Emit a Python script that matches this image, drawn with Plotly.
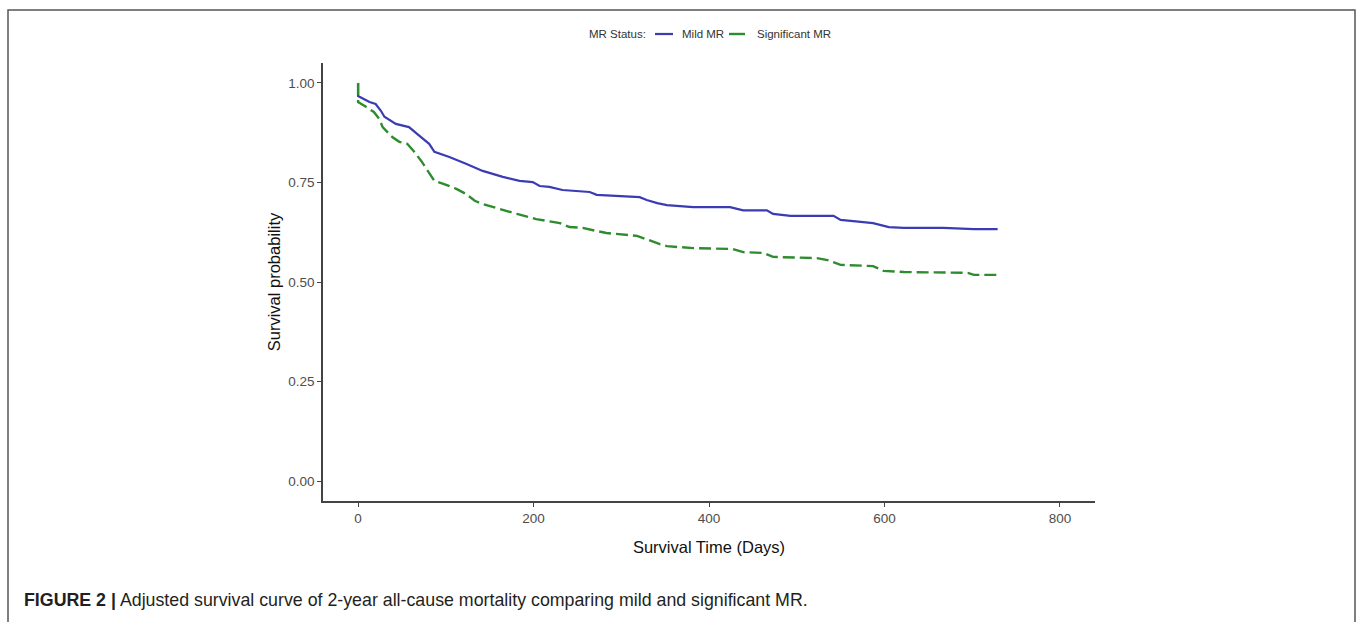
import plotly.graph_objects as go

# ---- data ----
mild_t = [0, 0, 13, 20, 26, 30, 43, 58, 70, 81, 87, 104, 123, 142, 165, 184, 199, 207, 218,
          233, 264, 272, 321, 329, 341, 352, 382, 424, 439, 466, 473, 493, 542, 550, 573,
          587, 605, 622, 667, 702, 729]
mild_s = [1.0, 0.967, 0.952, 0.947, 0.930, 0.915, 0.897, 0.889, 0.867, 0.847, 0.827, 0.814,
          0.797, 0.779, 0.764, 0.754, 0.751, 0.741, 0.739, 0.731, 0.726, 0.719, 0.713, 0.706,
          0.698, 0.693, 0.688, 0.688, 0.680, 0.680, 0.671, 0.666, 0.666, 0.656, 0.651, 0.648,
          0.638, 0.636, 0.636, 0.633, 0.633]

sig_t = [0, 0, 9, 18, 24, 28, 39, 47, 56, 64, 72, 79, 87, 98, 112, 123, 133, 142, 161, 181,
         203, 216, 230, 241, 256, 272, 283, 318, 333, 344, 352, 382, 427, 439, 462, 473, 523,
         535, 550, 587, 599, 622, 695, 702, 729]
sig_s = [1.0, 0.952, 0.940, 0.927, 0.910, 0.889, 0.864, 0.852, 0.847, 0.827, 0.804, 0.779,
         0.754, 0.746, 0.734, 0.721, 0.704, 0.696, 0.683, 0.671, 0.658, 0.653, 0.648, 0.638,
         0.636, 0.628, 0.623, 0.616, 0.603, 0.595, 0.590, 0.585, 0.583, 0.575, 0.573, 0.563,
         0.560, 0.555, 0.543, 0.540, 0.528, 0.525, 0.523, 0.518, 0.518]

x_ticks = [0, 200, 400, 600, 800]
y_ticks = [0.00, 0.25, 0.50, 0.75, 1.00]

W, H = 1358, 622
ML, MR, MT, MB = 323, 263, 63, 121
PW = W - ML - MR
PH = H - MT - MB

FONT = "Liberation Sans, Arial, Helvetica, sans-serif"
BLUE = "#3b3bb3"
GREEN = "#2e8b2e"
GDASH = "12px,5px"

fig = go.Figure()
fig.add_trace(go.Scatter(x=mild_t, y=mild_s, mode="lines", name="Mild MR", showlegend=False,
                         line=dict(color=BLUE, width=2.2)))
fig.add_trace(go.Scatter(x=sig_t, y=sig_s, mode="lines", name="Significant MR", showlegend=False,
                         line=dict(color=GREEN, width=2.4, dash=GDASH)))

def px2paper_x(px):
    return (px - ML) / PW

def px2paper_y(py):
    return (H - MB - py) / PH

# outer frame
fig.add_shape(type="rect", xref="paper", yref="paper",
              x0=px2paper_x(8), x1=px2paper_x(1355),
              y0=px2paper_y(640), y1=px2paper_y(10),
              line=dict(color="#555555", width=1.5), fillcolor="rgba(0,0,0,0)")

# legend (key lines + labels)
LY = px2paper_y(34)
fig.add_annotation(xref="paper", yref="paper", x=px2paper_x(648), y=LY, xanchor="right",
                   yanchor="middle", showarrow=False, text="MR Status:",
                   font=dict(family=FONT, size=11.5, color="#333333"))
fig.add_shape(type="line", xref="paper", yref="paper", x0=px2paper_x(655), x1=px2paper_x(673),
              y0=LY, y1=LY, line=dict(color=BLUE, width=2.2))
fig.add_annotation(xref="paper", yref="paper", x=px2paper_x(680), y=LY, xanchor="left",
                   yanchor="middle", showarrow=False, text="Mild MR",
                   font=dict(family=FONT, size=11.5, color="#333333"))
fig.add_shape(type="line", xref="paper", yref="paper", x0=px2paper_x(729), x1=px2paper_x(745),
              y0=LY, y1=LY, line=dict(color=GREEN, width=2.4))
fig.add_annotation(xref="paper", yref="paper", x=px2paper_x(755), y=LY, xanchor="left",
                   yanchor="middle", showarrow=False, text="Significant MR",
                   font=dict(family=FONT, size=11.5, color="#333333"))

# caption
fig.add_annotation(xref="paper", yref="paper", x=px2paper_x(22), y=px2paper_y(600),
                   xanchor="left", yanchor="middle", showarrow=False,
                   text="<b>FIGURE 2 |</b> Adjusted survival curve of 2-year all-cause mortality comparing mild and significant MR.",
                   font=dict(family=FONT, size=17.8, color="#231f20"))

fig.update_layout(
    width=W, height=H,
    margin=dict(l=ML, r=MR, t=MT, b=MB, autoexpand=False),
    paper_bgcolor="white", plot_bgcolor="white",
    font=dict(family=FONT, color="#4d4d4d"),
    showlegend=False,
    xaxis=dict(range=[-40, 840], tickvals=x_ticks, ticktext=[str(v) for v in x_ticks],
               showgrid=False, zeroline=False, showline=True, linecolor="#444444", linewidth=1.6,
               ticks="outside", ticklen=4, tickcolor="#444444", tickwidth=1.2,
               tickfont=dict(size=13.5, color="#4d4d4d"),
               title=dict(text="Survival Time (Days)", font=dict(size=16.5, color="#111111"), standoff=16)),
    yaxis=dict(range=[-0.05, 1.05], tickvals=y_ticks, tickformat=".2f",
               showgrid=False, zeroline=False, showline=True, linecolor="#444444", linewidth=1.6,
               ticks="outside", ticklen=4, tickcolor="#444444", tickwidth=1.2,
               tickfont=dict(size=13.5, color="#4d4d4d"),
               title=dict(text="Survival probability", font=dict(size=16.5, color="#111111"), standoff=3)),
)

fig.write_html("out.html")
